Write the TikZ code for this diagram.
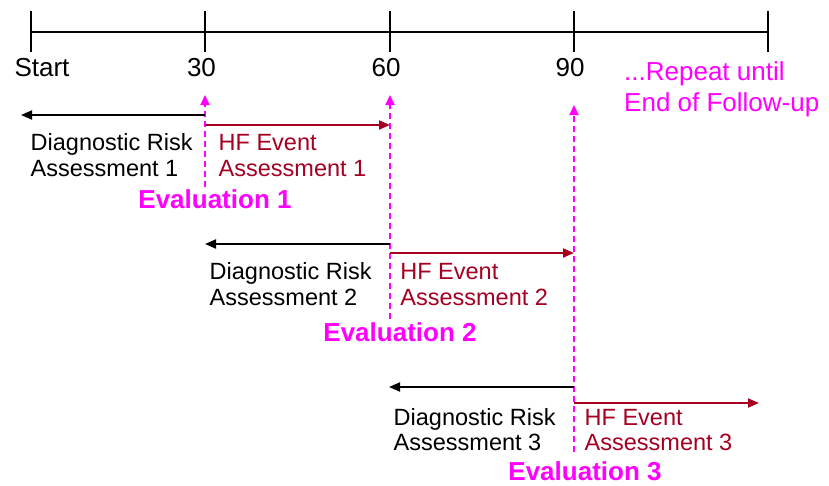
\documentclass[tikz,border=0pt]{standalone}
\usepackage{fontspec}
\setmainfont{Liberation Sans}
\usetikzlibrary{arrows.meta}
\definecolor{hfred}{RGB}{165,0,33}
\definecolor{mag}{RGB}{255,0,255}
\begin{document}
\begin{tikzpicture}[x=1pt,y=-1pt,
  axisline/.style={line width=2pt,black},
  tickline/.style={line width=2pt,black},
  tlabel/.style={font=\fontsize{26}{30}\selectfont,anchor=base,inner sep=0pt},
  replabel/.style={font=\fontsize{26}{31.5}\selectfont,text=mag,align=left,anchor=base west,inner sep=0pt},
  drarrow/.style={black,line width=2pt,-{Triangle[length=11pt,width=9pt]}},
  hfarrow/.style={hfred,line width=2pt,-{Triangle[length=11pt,width=9pt]}},
  evline/.style={mag,line width=2pt,dash pattern=on 6pt off 4pt,-{Triangle[length=10pt,width=9pt]}},
  drtext/.style={font=\fontsize{23.5}{25.3}\selectfont,align=left,anchor=base west,inner sep=0pt,text=black},
  hftext/.style={drtext,text=hfred},
  evtext/.style={font=\fontsize{26}{30}\selectfont\bfseries,text=mag,anchor=base,inner sep=0pt}
]
\useasboundingbox (0,0) rectangle (829,485);
% timeline
\coordinate (t0) at (31,32);
\coordinate (t1) at (205,32);
\coordinate (t2) at (390,32);
\coordinate (t3) at (574,32);
\coordinate (t4) at (768,32);
\draw[axisline] (t0) -- (t4);
\foreach \t in {t0,t1,t2,t3,t4}{
  \draw[tickline] ([yshift=-20pt]\t) -- ([yshift=21pt]\t);
}
\node[tlabel] (lstart) at (42,76) {Start};
\node[tlabel] (l30) at (201.5,76) {30};
\node[tlabel] (l60) at (386,76) {60};
\node[tlabel] (l90) at (570,76) {90};
\node[replabel] (rep) at (624,111.7) {...Repeat until\\End of Follow-up};

% evaluation dashed arrows
\coordinate (e1b) at (205,187);
\coordinate (e1t) at (205,95);
\coordinate (e2b) at (390,319);
\coordinate (e2t) at (390,95);
\coordinate (e3b) at (574,452);
\coordinate (e3t) at (574,105);
\draw[evline] (e1b) -- (e1t);
\draw[evline] (e2b) -- (e2t);
\draw[evline] (e3b) -- (e3t);

% row 1
\coordinate (d1s) at (205,115);
\coordinate (d1e) at (21,115);
\coordinate (h1s) at (205,125);
\coordinate (h1e) at (390,125);
\draw[drarrow] (d1s) -- (d1e);
\draw[hfarrow] (h1s) -- (h1e);
\node[drtext] (dr1) at (30.5,176) {Diagnostic Risk\\Assessment 1};
\node[hftext] (hf1) at (218.5,176) {HF Event\\Assessment 1};
\node[evtext] (ev1) at (215,208.3) {Evaluation 1};

% row 2
\coordinate (d2s) at (390,244);
\coordinate (d2e) at (205,244);
\coordinate (h2s) at (390,253);
\coordinate (h2e) at (574,253);
\draw[drarrow] (d2s) -- (d2e);
\draw[hfarrow] (h2s) -- (h2e);
\node[drtext] (dr2) at (209.5,305) {Diagnostic Risk\\Assessment 2};
\node[hftext] (hf2) at (400.2,305) {HF Event\\Assessment 2};
\node[evtext] (ev2) at (400,341.7) {Evaluation 2};

% row 3
\coordinate (d3s) at (574,387);
\coordinate (d3e) at (389,387);
\coordinate (h3s) at (574,403);
\coordinate (h3e) at (759,403);
\draw[drarrow] (d3s) -- (d3e);
\draw[hfarrow] (h3s) -- (h3e);
\node[drtext] (dr3) at (393.5,450.7) {Diagnostic Risk\\Assessment 3};
\node[hftext] (hf3) at (584.5,450.7) {HF Event\\Assessment 3};
\node[evtext] (ev3) at (585,480) {Evaluation 3};
\end{tikzpicture}
\end{document}
